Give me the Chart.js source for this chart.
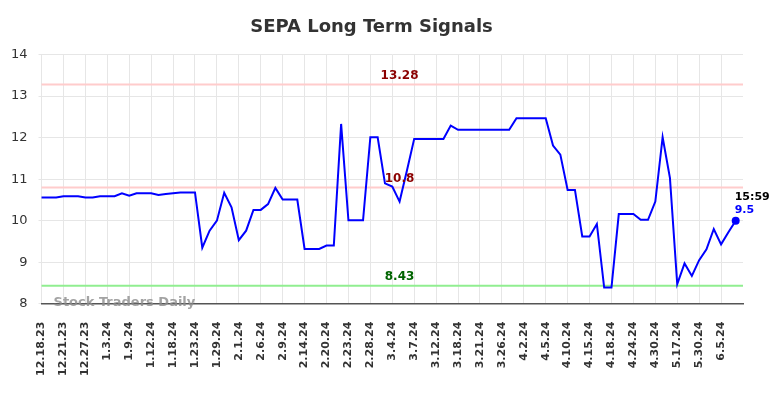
<!DOCTYPE html>
<html>
<head>
<meta charset="utf-8">
<script src="https://cdn.jsdelivr.net/npm/chart.js@4"></script>
<style>
  html, body { margin: 0; padding: 0; background: #fff; }
  #wrap { width: 784px; height: 398px; }
</style>
</head>
<body>
<div id="wrap"><canvas id="c" width="784" height="398"></canvas></div>
<script>
const titleText = 'SEPA Long Term Signals';
const dates = [
  '12.18.23','12.19.23','12.20.23','12.21.23','12.22.23','12.26.23','12.27.23','12.28.23','12.29.23',
  '1.3.24','1.4.24','1.5.24','1.9.24','1.10.24','1.11.24','1.12.24','1.16.24','1.17.24',
  '1.18.24','1.19.24','1.22.24','1.23.24','1.24.24','1.25.24','1.29.24','1.30.24','1.31.24',
  '2.1.24','2.2.24','2.5.24','2.6.24','2.7.24','2.8.24','2.9.24','2.12.24','2.13.24',
  '2.14.24','2.15.24','2.16.24','2.20.24','2.21.24','2.22.24','2.23.24','2.26.24','2.27.24',
  '2.28.24','2.29.24','3.1.24','3.4.24','3.5.24','3.6.24','3.7.24','3.8.24','3.11.24',
  '3.12.24','3.13.24','3.14.24','3.18.24','3.19.24','3.20.24','3.21.24','3.22.24','3.25.24',
  '3.26.24','3.27.24','4.1.24','4.2.24','4.3.24','4.4.24','4.5.24','4.8.24','4.9.24',
  '4.10.24','4.11.24','4.12.24','4.15.24','4.16.24','4.17.24','4.18.24','4.19.24','4.22.24',
  '4.24.24','4.25.24','4.26.24','4.30.24','5.1.24','5.2.24','5.17.24','5.20.24','5.24.24',
  '5.30.24','5.31.24','6.3.24','6.5.24','6.6.24','6.7.24',''
];
const prices = [
  10.56,10.56,10.56,10.59,10.59,10.59,10.56,10.56,10.59,
  10.59,10.59,10.66,10.60,10.66,10.66,10.66,10.62,10.64,
  10.66,10.68,10.68,10.68,9.35,9.76,10.00,10.67,10.32,
  9.53,9.76,10.26,10.26,10.40,10.79,10.51,10.51,10.51,
  9.32,9.32,9.32,9.40,9.40,12.33,10.01,10.01,10.01,
  12.01,12.01,10.90,10.82,10.46,11.20,11.97,11.97,11.97,
  11.97,11.97,12.29,12.19,12.19,12.19,12.19,12.19,12.19,
  12.19,12.19,12.47,12.47,12.47,12.47,12.47,11.81,11.59,
  10.74,10.74,9.62,9.62,9.92,8.39,8.39,10.16,10.16,
  10.16,10.02,10.02,10.46,12.01,11.03,8.47,8.97,8.67,
  9.05,9.31,9.80,9.43,9.72,10.00
];
const levelValues = [13.28, 10.8, 8.43];
const levelLabels = ['13.28', '10.8', '8.43'];
const levelLineColors = ['#ffcccc', '#ffcccc', '#90ee90'];
const levelTextColors = ['#8b0000', '#8b0000', '#006400'];
const levelLabelIndex = 49;
const lastTime = '15:59';
const lastValueText = '9.5';
const watermark = 'Stock Traders Daily';
const yMin = 8, yMax = 14;

const overlay = {
  id: 'overlay',
  beforeDatasetsDraw(chart) {
    const {ctx, chartArea: a, scales: {x, y}} = chart;
    ctx.save();
    ctx.font = 'bold 13px "DejaVu Sans"';
    ctx.fillStyle = 'rgba(140,140,140,0.8)';
    ctx.textAlign = 'left';
    ctx.textBaseline = 'middle';
    ctx.fillText(watermark, a.left + 12, a.bottom - 1);
    levelValues.forEach((v, i) => {
      const py = y.getPixelForValue(v);
      ctx.strokeStyle = levelLineColors[i];
      ctx.lineWidth = 2;
      ctx.beginPath();
      ctx.moveTo(a.left, py);
      ctx.lineTo(a.right, py);
      ctx.stroke();
    });
    ctx.restore();
  },
  afterDatasetsDraw(chart) {
    const {ctx, scales: {x, y}} = chart;
    ctx.save();
    ctx.font = 'bold 12px "DejaVu Sans"';
    ctx.textAlign = 'center';
    ctx.textBaseline = 'middle';
    const lx = x.getPixelForValue(levelLabelIndex);
    levelValues.forEach((v, i) => {
      const py = y.getPixelForValue(v);
      ctx.fillStyle = levelTextColors[i];
      ctx.fillText(levelLabels[i], lx, py - 9);
    });
    const li = prices.length - 1;
    const px = x.getPixelForValue(li);
    const py = y.getPixelForValue(prices[li]);
    ctx.beginPath();
    ctx.fillStyle = '#0000ff';
    ctx.arc(px, py, 4, 0, Math.PI * 2);
    ctx.fill();
    ctx.font = 'bold 11px "DejaVu Sans"';
    ctx.textAlign = 'left';
    ctx.fillStyle = '#000';
    ctx.fillText(lastTime, px - 1, py - 24);
    ctx.fillStyle = '#0000ff';
    ctx.fillText(lastValueText, px - 1, py - 11);
    ctx.restore();
  }
};

new Chart(document.getElementById('c'), {
  type: 'line',
  data: {
    labels: dates,
    datasets: [{
      data: prices,
      borderColor: '#0000ff',
      borderWidth: 2,
      pointRadius: 0,
      tension: 0,
      fill: false
    }]
  },
  options: {
    responsive: false,
    animation: false,
    layout: { padding: { left: 0, right: 41, top: 0, bottom: 4 } },
    plugins: {
      legend: { display: false },
      tooltip: { enabled: false },
      title: {
        display: true,
        text: titleText,
        color: '#333',
        font: { family: '"DejaVu Sans"', size: 18, weight: 'bold' },
        padding: { top: 17, bottom: 16 }
      }
    },
    scales: {
      x: {
        offset: false,
        grid: {
          color: (c) => (c.index % 3 === 0 && c.index < prices.length) ? '#e6e6e6' : 'rgba(0,0,0,0)',
          drawTicks: false
        },
        border: { display: true, color: '#555', width: 1.5 },
        ticks: {
          autoSkip: false,
          maxRotation: 90,
          minRotation: 90,
          padding: 18,
          color: '#333',
          font: { family: '"DejaVu Sans"', size: 11, weight: 'bold' },
          callback: function (v, i) { return (i % 3 === 0 && i < prices.length) ? dates[i] : ''; }
        }
      },
      y: {
        min: yMin,
        max: yMax,
        grid: { color: '#e6e6e6', tickLength: 3 },
        border: { display: false },
        ticks: {
          stepSize: 1,
          padding: 11,
          color: '#333',
          font: { family: '"DejaVu Sans"', size: 13 }
        }
      }
    }
  },
  plugins: [overlay]
});
</script>
</body>
</html>
